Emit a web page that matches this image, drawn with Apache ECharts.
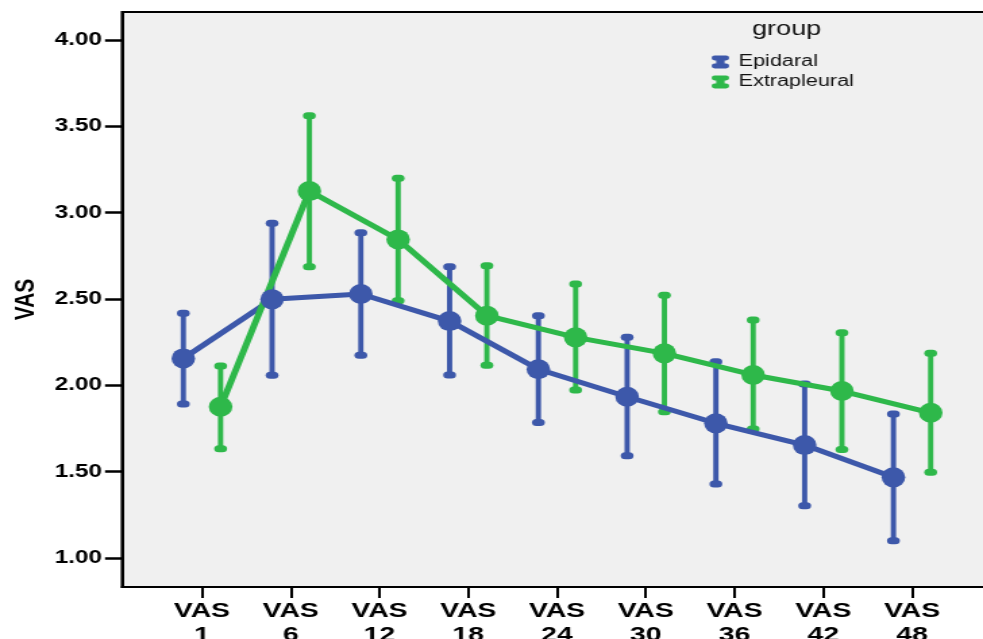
<!DOCTYPE html>
<html>
<head>
<meta charset="utf-8">
<script src="https://cdn.jsdelivr.net/npm/echarts@6/dist/echarts.min.js"></script>
<style>
html,body{margin:0;padding:0;background:#ffffff;overflow:hidden;}
#wrap{width:983px;height:639px;overflow:hidden;}
#c{width:728px;height:639px;transform:scaleX(1.3503);transform-origin:0 0;}
</style>
</head>
<body>
<div id="wrap"><div id="c"></div></div>
<script>
// ---- data ----
const timepoints = ['1', '6', '12', '18', '24', '30', '36', '42', '48'];
const groupNames = ['Epidaral', 'Extrapleural'];
const epiMean = [2.156, 2.498, 2.529, 2.372, 2.093, 1.934, 1.780, 1.654, 1.467];
const epiLow  = [1.892, 2.058, 2.174, 2.060, 1.784, 1.592, 1.428, 1.303, 1.100];
const epiHigh = [2.417, 2.938, 2.884, 2.687, 2.403, 2.278, 2.137, 2.007, 1.834];
const extMean = [1.876, 3.125, 2.845, 2.403, 2.278, 2.185, 2.060, 1.967, 1.841];
const extLow  = [1.633, 2.687, 2.490, 2.116, 1.973, 1.847, 1.747, 1.629, 1.496];
const extHigh = [2.112, 3.561, 3.199, 2.693, 2.587, 2.521, 2.378, 2.305, 2.185];
const yTicks = [1.0, 1.5, 2.0, 2.5, 3.0, 3.5, 4.0];

// ---- styling / layout ----
const BLUE = '#3d58aa';
const GREEN = '#2eb84a';
const FONT = 'Liberation Sans';
const OFFSET = 0.21;
const xPos = timepoints.map((t, i) => i);

function lineData(mean, off) {
  return mean.map((v, i) => [xPos[i] + off, v]);
}
function errData(low, high, off) {
  return low.map((v, i) => [xPos[i] + off, v, high[i]]);
}
function errRender(color) {
  return function (params, api) {
    const x = api.value(0);
    const lo = api.coord([x, api.value(1)]);
    const hi = api.coord([x, api.value(2)]);
    const cw = 9.5, ch = 7;
    return {
      type: 'group',
      children: [
        {type: 'line', shape: {x1: lo[0], y1: lo[1], x2: hi[0], y2: hi[1]},
         style: {stroke: color, lineWidth: 3.9}},
        {type: 'rect', shape: {x: hi[0] - cw / 2, y: hi[1] - ch / 2, width: cw, height: ch, r: ch / 2},
         style: {fill: color}},
        {type: 'rect', shape: {x: lo[0] - cw / 2, y: lo[1] - ch / 2, width: cw, height: ch, r: ch / 2},
         style: {fill: color}}
      ]
    };
  };
}

const ICON = 'path://M18,0 L82,0 Q100,0 100,19 Q100,38 82,38 L74,38 L74,62 L82,62 Q100,62 100,81 Q100,100 82,100 L18,100 Q0,100 0,81 Q0,62 18,62 L26,62 L26,38 L18,38 Q0,38 0,19 Q0,0 18,0 Z';

const chart = echarts.init(document.getElementById('c'), null, {renderer: 'canvas'});
chart.setOption({
  animation: false,
  backgroundColor: '#ffffff',
  title: {
    text: 'group', left: 557, top: 19, padding: 0,
    textStyle: {fontFamily: FONT, fontSize: 20, fontWeight: 'normal', color: '#111'}
  },
  legend: {
    orient: 'vertical', left: 527, top: 54, padding: 0,
    itemWidth: 13, itemHeight: 16, itemGap: 4,
    data: groupNames.map(n => ({name: n, icon: ICON})),
    textStyle: {fontFamily: FONT, fontSize: 16, color: '#111', padding: [0, 0, 0, 2]}
  },
  grid: {
    left: 90.4, right: -6.6, top: 12, bottom: 52,
    outerBoundsMode: 'none', containLabel: false,
    show: true, backgroundColor: '#f0f0f0', borderColor: '#000', borderWidth: 2
  },
  xAxis: {
    type: 'value', min: -0.9, max: 8.9,
    splitLine: {show: false},
    axisLine: {show: true, onZero: false, lineStyle: {color: '#000', width: 2}},
    axisTick: {show: true, customValues: xPos, length: 11, lineStyle: {color: '#000', width: 2}},
    axisLabel: {
      customValues: xPos, margin: 12,
      formatter: v => 'VAS\n' + timepoints[Math.round(v)],
      fontFamily: FONT, fontWeight: 'bold', fontSize: 21, lineHeight: 24, color: '#000'
    }
  },
  yAxis: {
    type: 'value', min: 0.832, max: 4.162,
    name: 'VAS', nameLocation: 'middle', nameGap: 61,
    nameTextStyle: {fontFamily: FONT, fontWeight: 'bold', fontSize: 21, color: '#000'},
    splitLine: {show: false},
    axisLine: {show: true, onZero: false, lineStyle: {color: '#000', width: 2}},
    axisTick: {show: true, customValues: yTicks, length: 12.6, lineStyle: {color: '#000', width: 2.5}},
    axisLabel: {
      customValues: yTicks, margin: 14.8,
      formatter: v => v.toFixed(2),
      fontFamily: FONT, fontWeight: 'bold', fontSize: 18, color: '#000'
    }
  },
  series: [
    {name: groupNames[0], type: 'custom', renderItem: errRender(BLUE),
     data: errData(epiLow, epiHigh, -OFFSET), itemStyle: {color: BLUE}, encode: {x: 0, y: [1, 2]}},
    {name: groupNames[0], type: 'line', data: lineData(epiMean, -OFFSET),
     symbol: 'circle', symbolSize: [17.5, 20], color: BLUE,
     lineStyle: {color: BLUE, width: 5}, itemStyle: {color: BLUE}},
    {name: groupNames[1], type: 'custom', renderItem: errRender(GREEN),
     data: errData(extLow, extHigh, OFFSET), itemStyle: {color: GREEN}, encode: {x: 0, y: [1, 2]}},
    {name: groupNames[1], type: 'line', data: lineData(extMean, OFFSET),
     symbol: 'circle', symbolSize: [17.5, 20], color: GREEN,
     lineStyle: {color: GREEN, width: 5}, itemStyle: {color: GREEN}}
  ]
});
</script>
</body>
</html>
